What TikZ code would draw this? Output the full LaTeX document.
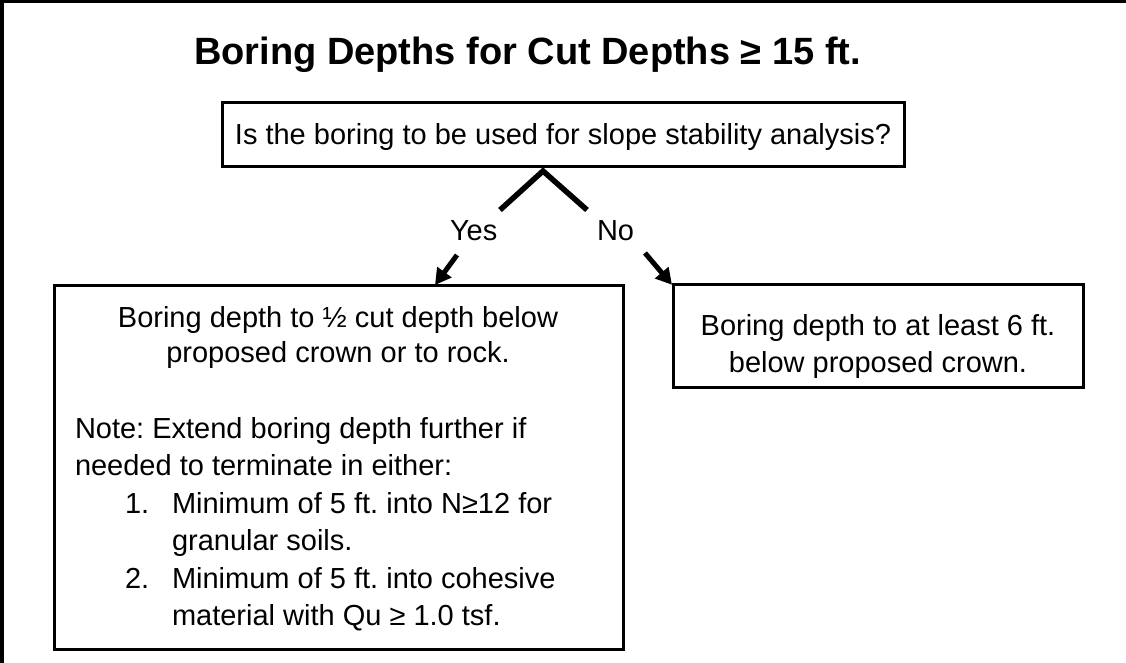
\documentclass[tikz,border=0pt]{standalone}
\usepackage{fontspec}
\setmainfont{Liberation Sans}
\usetikzlibrary{arrows.meta}
\frenchspacing
\begin{document}
\begin{tikzpicture}[x=1pt,y=-1pt,
  box/.style={draw, line width=3pt, rectangle, inner sep=0pt, outer sep=0pt},
  txt/.style={inner sep=0pt, outer sep=0pt, font=\frenchspacing\fontsize{29}{37}\selectfont},
  titletxt/.style={inner sep=0pt, outer sep=0pt, font=\frenchspacing\bfseries\fontsize{38}{44}\selectfont},
  branch/.style={line width=5.5pt, line join=miter, line cap=butt},
  arr/.style={line width=5pt, -{Triangle[length=16pt,width=17pt]}},
  frameline/.style={line width=3.5pt}]
\useasboundingbox (0,0) rectangle (1126,663);
% outer frame (top and left edges visible)
\draw[frameline] (1.75,663) -- (1.75,1.75) -- (1126,1.75);

% title
\node[titletxt, anchor=base] (title) at (527.5,65) {Boring Depths for Cut Depths ≥ 15 ft.};

% boxes
\node[box, minimum width=682pt, minimum height=64pt] (qbox) at (563,134.7) {};
\node[box, minimum width=569.2pt, minimum height=364.5pt] (yesbox) at (339.1,467.25) {};
\node[box, minimum width=409.8pt, minimum height=102.2pt] (nobox) at (878.1,335.9) {};

% question text
\node[txt, anchor=base] (qtext) at (563,145) {Is the boring to be used for slope stability analysis?};

% branch chevron
\coordinate (apex) at (543,171);
\coordinate (yesend) at (500,210);
\coordinate (noend) at (587,210);
\draw[branch] (yesend) -- (apex) -- (noend);

% labels
\node[txt, anchor=base west] (yeslbl) at (450,240) {Yes};
\node[txt, anchor=base west] (nolbl) at (597,240) {No};

% arrows
\coordinate (yestail) at (457,255);
\coordinate (notail) at (645,253);
\draw[arr] (yestail) -- (435,0 |- yesbox.north);
\draw[arr] (notail) -- (672,0 |- nobox.north);

% yes box text
\node[txt, anchor=base] (y1) at (338,327) {Boring depth to ½ cut depth below};
\node[txt, anchor=base] (y2) at (338,362) {proposed crown or to rock.};
\node[txt, anchor=base west] (y3) at (75,438) {Note: Extend boring depth further if};
\node[txt, anchor=base west] (y4) at (75,475) {needed to terminate in either:};
\node[txt, anchor=base west] (n1) at (125,513) {1.};
\node[txt, anchor=base west] (y5) at (172,513) {Minimum of 5 ft. into N≥12 for};
\node[txt, anchor=base west] (y6) at (172,550) {granular soils.};
\node[txt, anchor=base west] (n2) at (125,588) {2.};
\node[txt, anchor=base west] (y7) at (172,588) {Minimum of 5 ft. into cohesive};
\node[txt, anchor=base west] (y8) at (172,625) {material with Qu ≥ 1.0 tsf.};

% no box text
\node[txt, anchor=base] (r1) at (878,335) {Boring depth to at least 6 ft.};
\node[txt, anchor=base] (r2) at (878,372) {below proposed crown.};
\end{tikzpicture}
\end{document}
